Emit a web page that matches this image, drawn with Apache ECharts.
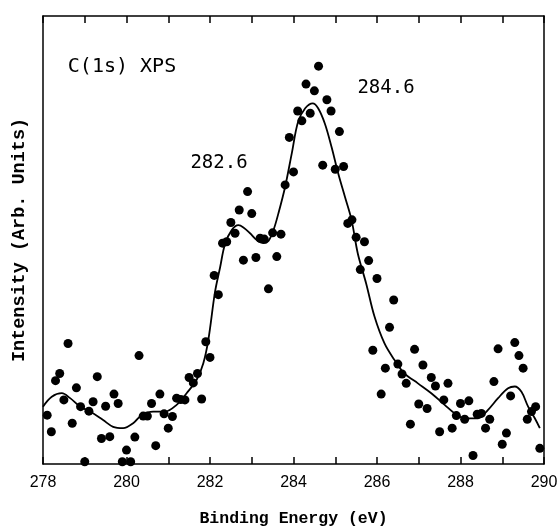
<!DOCTYPE html>
<html>
<head>
<meta charset="utf-8">
<script src="https://cdn.jsdelivr.net/npm/echarts@6/dist/echarts.min.js"></script>
<style>
  html, body { margin: 0; padding: 0; background: #fff; }
  #chart { width: 558px; height: 529px; }
</style>
</head>
<body>
<div id="chart"></div>
<script>
// measured points (binding energy in eV, intensity arb. units)
const dotEnergy = [
    278.1, 278.2, 278.3, 278.4, 278.5, 278.6, 278.7, 278.8, 278.9, 279.0,
    279.1, 279.2, 279.3, 279.4, 279.5, 279.6, 279.7, 279.8, 279.9, 280.0,
    280.1, 280.2, 280.3, 280.4, 280.5, 280.6, 280.7, 280.8, 280.9, 281.0,
    281.1, 281.2, 281.3, 281.4, 281.5, 281.6, 281.7, 281.8, 281.9, 282.0,
    282.1, 282.2, 282.3, 282.4, 282.5, 282.6, 282.7, 282.8, 282.9, 283.0,
    283.1, 283.2, 283.3, 283.4, 283.5, 283.6, 283.7, 283.8, 283.9, 284.0,
    284.1, 284.2, 284.3, 284.4, 284.5, 284.6, 284.7, 284.8, 284.9, 285.0,
    285.1, 285.2, 285.3, 285.4, 285.5, 285.6, 285.7, 285.8, 285.9, 286.0,
    286.1, 286.2, 286.3, 286.4, 286.5, 286.6, 286.7, 286.8, 286.9, 287.0,
    287.1, 287.2, 287.3, 287.4, 287.5, 287.6, 287.7, 287.8, 287.9, 288.0,
    288.1, 288.2, 288.3, 288.4, 288.5, 288.6, 288.7, 288.8, 288.9, 289.0,
    289.1, 289.2, 289.3, 289.4, 289.5, 289.6, 289.7, 289.8, 289.9
]
const dotCounts = [
    10.9, 7.2, 18.6, 20.2, 14.3, 26.9, 9.1, 17.0, 12.8, 0.5,
    11.8, 13.9, 19.5, 5.7, 12.9, 6.1, 15.6, 13.5, 0.5, 3.1,
    0.5, 6.0, 24.2, 10.7, 10.7, 13.5, 4.1, 15.6, 11.2, 8.0,
    10.6, 14.7, 14.4, 14.3, 19.3, 18.1, 20.2, 14.5, 27.3, 23.8,
    42.1, 37.8, 49.3, 49.6, 53.9, 51.5, 56.7, 45.5, 60.8, 55.9,
    46.1, 50.4, 50.2, 39.1, 51.6, 46.3, 51.3, 62.3, 72.9, 65.2,
    78.8, 76.6, 84.8, 78.3, 83.3, 88.8, 66.7, 81.3, 78.8, 65.8,
    74.2, 66.4, 53.7, 54.5, 50.6, 43.4, 49.6, 45.4, 25.4, 41.4,
    15.6, 21.4, 30.5, 36.6, 22.3, 20.1, 18.0, 8.9, 25.6, 13.4,
    22.1, 12.4, 19.3, 17.4, 7.2, 14.3, 18.0, 8.0, 10.8, 13.5,
    10.0, 14.1, 1.9, 11.1, 11.3, 8.0, 10.0, 18.4, 25.7, 4.4,
    6.9, 15.2, 27.1, 24.2, 21.4, 10.0, 11.7, 12.8, 3.5
]

// fitted curve
const fitEnergy = [
    278.0, 278.21, 278.45, 278.65, 278.89, 279.13, 279.44, 279.68, 279.92, 280.16,
    280.36, 280.64, 280.92, 281.2, 281.44, 281.68, 281.84, 281.96, 282.12, 282.24,
    282.36, 282.52, 282.68, 282.8, 282.96, 283.12, 283.28, 283.4, 283.52, 283.64,
    283.8, 283.96, 284.11, 284.28, 284.46, 284.59, 284.75, 284.91, 285.07, 285.23,
    285.39, 285.54, 285.74, 285.94, 286.18, 286.42, 286.66, 286.98, 287.3, 287.62,
    287.86, 288.1, 288.42, 288.66, 288.9, 289.14, 289.3, 289.46, 289.62, 289.78,
    289.9
]
const fitCounts = [
    12.8, 15.0, 15.8, 14.7, 12.8, 11.7, 9.8, 8.3, 8.0, 9.1,
    10.9, 11.7, 11.7, 13.2, 15.8, 18.8, 22.5, 27.7, 38.4, 43.8,
    49.1, 52.2, 53.3, 52.8, 51.5, 50.0, 49.3, 49.8, 52.2, 56.0,
    61.9, 69.4, 76.4, 79.4, 80.5, 79.4, 76.0, 70.8, 64.9, 59.7,
    54.5, 47.0, 40.3, 32.9, 26.9, 23.2, 20.2, 18.0, 15.8, 13.2,
    11.3, 10.2, 10.2, 12.1, 14.7, 16.9, 17.3, 16.1, 12.8, 10.2,
    8.0
]

const xTickLabels = ['278', '280', '282', '284', '286', '288', '290']

const myChart = echarts.init(document.getElementById('chart'))

const dots = dotEnergy.map((e, i) => [e, dotCounts[i]])
const fit = fitEnergy.map((e, i) => [e, fitCounts[i]])

function frameLine() {
    return {show: true, onZero: false, lineStyle: {color: '#000', width: 1.5}}
}
function tickStyle() {
    return {show: true, inside: true, length: 7, lineStyle: {color: '#000', width: 1.5}}
}

const option = {
    animation: false,
    backgroundColor: '#fff',
    grid: {
        left: 43, right: 14, top: 16, bottom: 65,
        outerBoundsMode: 'none',
        containLabel: false
    },
    xAxis: [
        {
            type: 'value',
            min: 278,
            max: 290,
            interval: 1,
            axisLine: frameLine(),
            axisTick: tickStyle(),
            splitLine: {show: false},
            axisLabel: {
                color: '#000',
                fontFamily: 'Liberation Sans',
                fontSize: 16,
                margin: 11,
                formatter: v => xTickLabels.includes(String(v)) ? String(v) : ''
            },
            name: 'Binding Energy (eV)',
            nameLocation: 'middle',
            nameGap: 46,
            nameTextStyle: {
                color: '#000',
                fontFamily: 'Liberation Mono',
                fontWeight: 'bold',
                fontSize: 16.5
            }
        },
        {
            type: 'value',
            position: 'top',
            min: 278,
            max: 290,
            interval: 1,
            axisLine: frameLine(),
            axisTick: tickStyle(),
            axisLabel: {show: false},
            splitLine: {show: false}
        }
    ],
    yAxis: [
        {
            type: 'value',
            min: 0,
            max: 100,
            axisLine: frameLine(),
            axisTick: {show: false},
            axisLabel: {show: false},
            splitLine: {show: false},
            name: 'Intensity (Arb. Units)',
            nameLocation: 'middle',
            nameGap: 14,
            nameTextStyle: {
                color: '#000',
                fontFamily: 'Liberation Mono',
                fontWeight: 'bold',
                fontSize: 18.5
            }
        },
        {
            type: 'value',
            position: 'right',
            min: 0,
            max: 100,
            axisLine: frameLine(),
            axisTick: {show: false},
            axisLabel: {show: false},
            splitLine: {show: false}
        }
    ],
    graphic: [
        {
            type: 'text',
            x: 122, y: 67,
            style: {
                text: 'C(1s) XPS',
                fill: '#000',
                font: '20px "DejaVu Sans Mono"',
                textAlign: 'center',
                textVerticalAlign: 'middle'
            }
        },
        {
            type: 'text',
            x: 219, y: 163,
            style: {
                text: '282.6',
                fill: '#000',
                font: '19px "DejaVu Sans Mono"',
                textAlign: 'center',
                textVerticalAlign: 'middle'
            }
        },
        {
            type: 'text',
            x: 386, y: 88,
            style: {
                text: '284.6',
                fill: '#000',
                font: '19px "DejaVu Sans Mono"',
                textAlign: 'center',
                textVerticalAlign: 'middle'
            }
        }
    ],
    series: [
        {
            name: 'fit',
            type: 'line',
            data: fit,
            smooth: 0.35,
            showSymbol: false,
            lineStyle: {color: '#000', width: 1.8}
        },
        {
            name: 'data',
            type: 'scatter',
            data: dots,
            symbolSize: 9,
            clip: false,
            itemStyle: {color: '#000', opacity: 1}
        }
    ]
}

myChart.setOption(option)
</script>
</body>
</html>
